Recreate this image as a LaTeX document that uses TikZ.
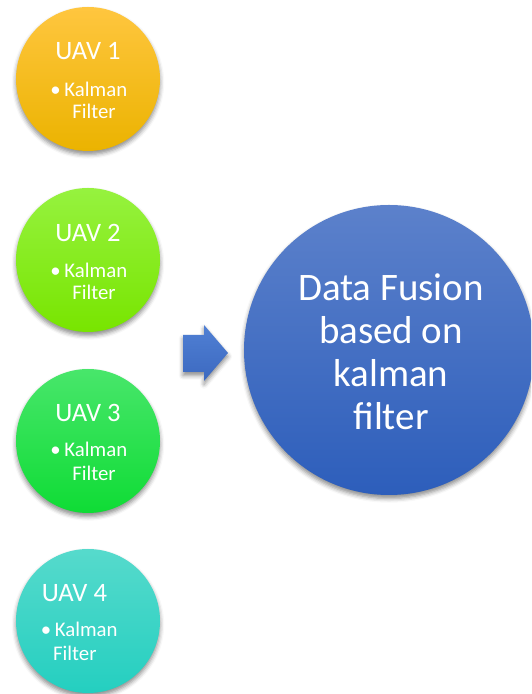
\documentclass[tikz,border=0pt]{standalone}
\usepackage{fontspec}
\setmainfont{Carlito}
\usetikzlibrary{calc,shadows.blur}
\definecolor{uavAtop}{HTML}{FFC63F}
\definecolor{uavAbot}{HTML}{EBB300}
\definecolor{uavBtop}{HTML}{96F23F}
\definecolor{uavBbot}{HTML}{78E500}
\definecolor{uavCtop}{HTML}{48E66B}
\definecolor{uavCbot}{HTML}{0FDC35}
\definecolor{uavDtop}{HTML}{56DACC}
\definecolor{uavDbot}{HTML}{24CFC0}
\definecolor{fusetop}{HTML}{5C81CB}
\definecolor{fusebot}{HTML}{2D5EBB}
\definecolor{arrowtop}{HTML}{5080D4}
\definecolor{arrowbot}{HTML}{3C69C0}
\def\kalmanitem{•\hspace{0.18em}Kalman}
\tikzset{
	softshadow/.style={blur shadow={shadow xshift=0pt, shadow yshift=-2.5pt, shadow blur radius=3pt, shadow opacity=45}},
	uav/.style={circle, minimum size=3.6cm, inner sep=0pt, softshadow},
	uavtitle/.style={text=white, inner sep=0pt, font=\fontsize{18.9}{22}\selectfont},
	uavitem/.style={text=white, inner sep=0pt, font=\fontsize{14.8}{17}\selectfont},
	fusetext/.style={text=white, align=center, inner sep=0pt, font=\fontsize{27.7}{30.6}\selectfont}
}

\begin{document}
\begin{tikzpicture}
			%%%%% START %%%%%
			\useasboundingbox (0, 0) rectangle (13.275, 17.35);
			\clip (0, 0) rectangle (13.275, 17.35);
			
			\node[uav, top color=uavAtop, bottom color=uavAbot] (uav1) at (2.2, 15.375) {};
			\node[uavtitle] (uav1title) at ($(uav1)+(0, 0.7)$) {UAV 1};
			\node[uavitem] (uav1kalman) at ($(uav1)+(0.02, -0.25)$) {\kalmanitem};
			\node[uavitem] (uav1filter) at ($(uav1)+(0.15, -0.82)$) {Filter};
			
			\node[uav, top color=uavBtop, bottom color=uavBbot] (uav2) at (2.2, 10.85) {};
			\node[uavtitle] (uav2title) at ($(uav2)+(0, 0.68)$) {UAV 2};
			\node[uavitem] (uav2kalman) at ($(uav2)+(0.02, -0.25)$) {\kalmanitem};
			\node[uavitem] (uav2filter) at ($(uav2)+(0.15, -0.82)$) {Filter};
			
			\node[uav, top color=uavCtop, bottom color=uavCbot] (uav3) at (2.2, 6.325) {};
			\node[uavtitle] (uav3title) at ($(uav3)+(0, 0.7)$) {UAV 3};
			\node[uavitem] (uav3kalman) at ($(uav3)+(0.02, -0.22)$) {\kalmanitem};
			\node[uavitem] (uav3filter) at ($(uav3)+(0.15, -0.82)$) {Filter};
			
			\node[uav, top color=uavDtop, bottom color=uavDbot] (uav4) at (2.2, 1.825) {};
			\node[uavtitle] (uav4title) at ($(uav4)+(-0.34, 0.7)$) {UAV 4};
			\node[uavitem] (uav4kalman) at ($(uav4)+(-0.22, -0.22)$) {\kalmanitem};
			\node[uavitem] (uav4filter) at ($(uav4)+(-0.33, -0.82)$) {Filter};
			
			% block arrow
			\draw[draw=none, top color=arrowtop, bottom color=arrowbot, softshadow]
				(4.575, 8.975) -- (5.1, 8.975) -- (5.1, 9.225) -- (5.7, 8.525)
				-- (5.1, 7.825) -- (5.1, 8.05) -- (4.575, 8.05) -- cycle;
			
			\node[circle, minimum size=7.25cm, inner sep=0pt, top color=fusetop, bottom color=fusebot, softshadow] (fuse) at (9.725, 8.6) {};
			\node[fusetext] (fusetxt) at ($(fuse)+(0.05, -0.05)$) {Data Fusion\\based on\\kalman\\filter};
			%%%%% END %%%%%
		\end{tikzpicture}
\end{document}
